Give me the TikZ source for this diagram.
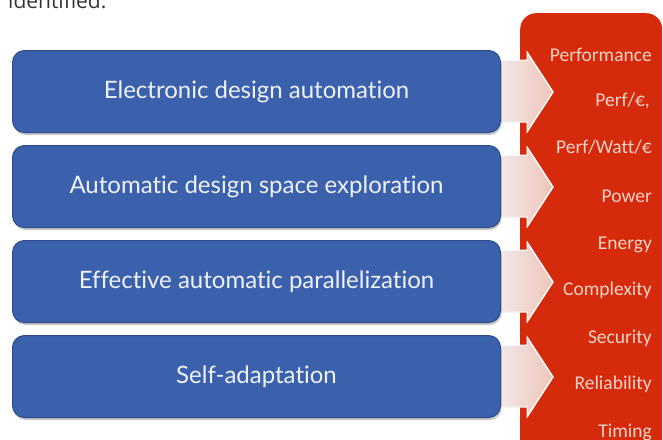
\documentclass[tikz,border=0pt]{standalone}
\usepackage{fontspec}
\setmainfont{Lato}[Ligatures=NoCommon]
\newfontfamily\redfont{Carlito}[Ligatures=NoCommon]
\newfontfamily\docfont{Open Sans}
\usetikzlibrary{shadows,calc}
\definecolor{boxblue}{HTML}{3B60AC}
\definecolor{boxedge}{HTML}{2D4C8C}
\definecolor{redbg}{HTML}{D62A0C}
\definecolor{redtext}{HTML}{F7D3C6}
\definecolor{chevl}{HTML}{F1EEF1}
\definecolor{chevr}{HTML}{EFC4B8}
\definecolor{boxtext}{HTML}{EEF2FA}
\begin{document}
\begin{tikzpicture}[x=1pt,y=-1pt,
  bluebox/.style={draw=boxedge, line width=1pt, fill=boxblue, rounded corners=12pt,
    minimum width=488pt, minimum height=82pt, text=boxtext, inner sep=0pt,
    font=\fontsize{24}{28}\selectfont, anchor=north west,
    drop shadow={shadow xshift=1pt, shadow yshift=-2.5pt, opacity=0.45}},
  metric/.style={text=redtext, font=\redfont\fontsize{19.5}{22}\selectfont,
    anchor=base east, inner sep=0pt},
  chevron/.style={left color=chevl, right color=chevr, draw=white, line width=1pt},
  redpanel/.style={fill=redbg, rounded corners=16pt, draw=none}]
\useasboundingbox (0,0) rectangle (663,439);
\clip (0,0) rectangle (663,439);
% document text above
\node[anchor=base west, inner sep=0pt, text=black!80, font=\docfont\fontsize{21}{24}\selectfont] (doc) at (8,9) {identified.};
% red panel
\node[redpanel, anchor=north west, minimum width=142pt, minimum height=460pt, inner sep=0pt] (panel) at (520,13) {};
% chevron anchor points at the right edge of each box
\foreach \k/\name in {0/b1,1/b2,2/b3,3/b4}{
  \coordinate (\name-c) at (500,{91+95*\k});
}
\foreach \name in {b1,b2,b3,b4}{
  \fill[chevron] ($(\name-c)+(-8,-31)$) -- ($(\name-c)+(27,-31)$) -- ($(\name-c)+(27,-39)$)
    -- ($(\name-c)+(53,1)$) -- ($(\name-c)+(27,41)$) -- ($(\name-c)+(27,31)$)
    -- ($(\name-c)+(-8,31)$) -- cycle;
  \draw[white, line width=1.2pt, line join=round] ($(\name-c)+(27,-39)$) -- ($(\name-c)+(53,1)$) -- ($(\name-c)+(27,41)$);
}
\node[bluebox] (b1) at (12,50) {Electronic design automation};
\node[bluebox] (b2) at (12,145) {Automatic design space exploration};
\node[bluebox] (b3) at (12,240) {Effective automatic parallelization};
\node[bluebox] (b4) at (12,335) {Self-adaptation};
% metrics
\node[metric] (m1) at (652,61) {Performance};
\node[metric] (m2) at (650,106) {Perf/€,};
\node[metric] (m3) at (652,153) {Perf/Watt/€};
\node[metric] (m4) at (652,202) {Power};
\node[metric] (m5) at (652,249) {Energy};
\node[metric] (m6) at (652,295) {Complexity};
\node[metric] (m7) at (652,343) {Security};
\node[metric] (m8) at (652,389) {Reliability};
\node[metric] (m9) at (652,437) {Timing};
\end{tikzpicture}
\end{document}
